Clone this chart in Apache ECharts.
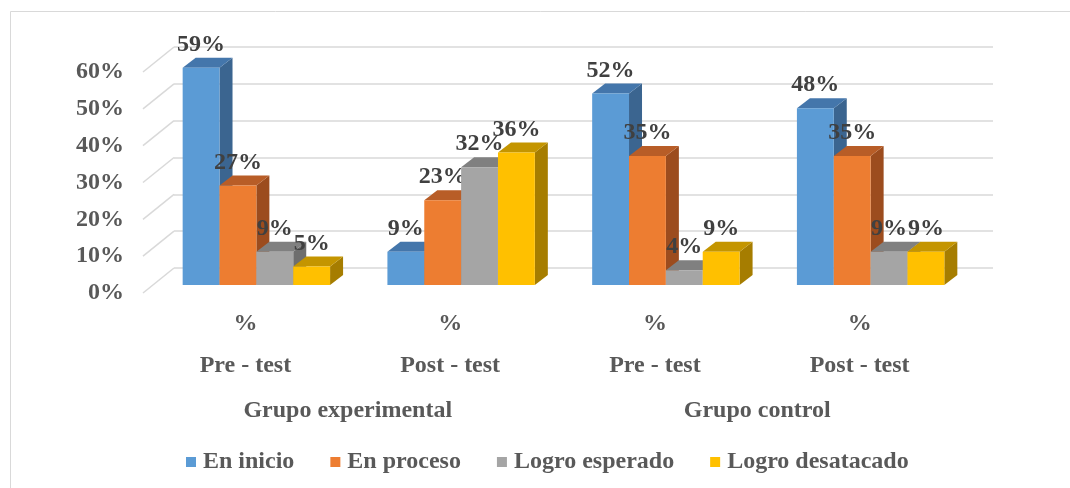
<!DOCTYPE html>
<html>
<head>
<meta charset="utf-8">
<script src="https://cdn.jsdelivr.net/npm/echarts@6/dist/echarts.min.js"></script>
<style>html,body{margin:0;padding:0;background:#fff;}#c{width:1070px;height:488px;}</style>
</head>
<body>
<div id="c"></div>
<script>
// ---- data ----
const categories = ['Pre - test', 'Post - test', 'Pre - test', 'Post - test'];
const groups = ['Grupo experimental', 'Grupo control'];
const seriesNames = ['En inicio', 'En proceso', 'Logro esperado', 'Logro desatacado'];
const enInicio = [59, 9, 52, 48];
const enProceso = [27, 23, 35, 35];
const logroEsperado = [9, 32, 4, 9];
const logroDestacado = [5, 36, 9, 9];
const yTicks = [0, 10, 20, 30, 40, 50, 60];

// ---- style ----
const FONT = '"Liberation Serif", "Times New Roman", serif';
const FS = 24;
const palette = [
  { front: '#5b9bd5', top: '#4476ab', side: '#3b6590' },
  { front: '#ed7d31', top: '#b85d27', side: '#9c4c1e' },
  { front: '#a5a5a5', top: '#808080', side: '#6e6e6e' },
  { front: '#ffc000', top: '#c49500', side: '#a67d00' }
];
const FRONT_DX = 20, FRONT_DY = 17;   // bars' front plane offset from back wall
const DEPTH_DX = 13, DEPTH_DY = -10;  // bar depth
const WALL_DX = 31, WALL_DY = 25;     // floor depth (diagonal lines)

const seriesValues = [enInicio, enProceso, logroEsperado, logroDestacado];

function barRenderer(s) {
  return function (params, api) {
    const cat = api.value(0), val = api.value(1);
    const top = api.coord([cat, val]);
    const base = api.coord([cat, 0]);
    const bw = api.size([1, 0])[0] * 0.18;
    const x0 = top[0] - FRONT_DX - 2 * bw + s * bw;
    const yT = top[1] + FRONT_DY;
    const yB = base[1] + FRONT_DY;
    const c = palette[s];
    return {
      type: 'group',
      children: [
        { type: 'polygon', shape: { points: [[x0 + bw, yT], [x0 + bw + DEPTH_DX, yT + DEPTH_DY], [x0 + bw + DEPTH_DX, yB + DEPTH_DY], [x0 + bw, yB]] }, style: { fill: c.side } },
        { type: 'polygon', shape: { points: [[x0, yT], [x0 + bw, yT], [x0 + bw + DEPTH_DX, yT + DEPTH_DY], [x0 + DEPTH_DX, yT + DEPTH_DY]] }, style: { fill: c.top } },
        { type: 'rect', shape: { x: x0, y: yT, width: bw, height: yB - yT }, style: { fill: c.front } },
        { type: 'text', style: { text: val + '%', x: x0 + bw / 2, y: yT - 23, align: 'center', verticalAlign: 'middle', font: 'bold ' + FS + 'px ' + FONT, fill: '#404040' } }
      ]
    };
  };
}

const series = [
  {
    type: 'custom', xAxisIndex: 0, yAxisIndex: 0, silent: true, z: 1,
    data: yTicks.map(v => [0, v]),
    renderItem: function (params, api) {
      const cs = params.coordSys;
      const y = api.coord([0, api.value(1)])[1];
      return { type: 'line', shape: { x1: cs.x - WALL_DX, y1: y + WALL_DY, x2: cs.x, y2: y }, style: { stroke: '#d9d9d9', lineWidth: 1.5 } };
    }
  }
];
seriesValues.forEach((vals, s) => {
  series.push({
    type: 'custom', name: seriesNames[s], xAxisIndex: 0, yAxisIndex: 0, z: 2,
    itemStyle: { color: palette[s].front },
    data: vals.map((v, i) => [i, v]),
    renderItem: barRenderer(s)
  });
});

const chart = echarts.init(document.getElementById('c'));
chart.setOption({
  backgroundColor: '#fff',
  animation: false,
  graphic: [{ type: 'rect', shape: { x: 10.5, y: 11.5, width: 1200, height: 600 }, style: { fill: 'none', stroke: '#d9d9d9', lineWidth: 1 }, silent: true }],
  grid: [
    { left: 174, right: 77, top: 47, bottom: 220 },
    { left: 143, right: 108, top: 72, bottom: 195 }
  ],
  xAxis: [
    { gridIndex: 0, type: 'category', data: categories, show: false },
    {
      gridIndex: 1, type: 'category', data: categories,
      axisLine: { show: false }, axisTick: { show: false },
      axisLabel: { margin: 10, formatter: v => '%\n' + v, lineHeight: 42, color: '#595959', fontFamily: FONT, fontWeight: 'bold', fontSize: FS }
    },
    {
      gridIndex: 1, type: 'category', data: groups, position: 'bottom', offset: 98,
      axisLine: { show: false }, axisTick: { show: false },
      axisLabel: { margin: 8, fontFamily: FONT, fontWeight: 'bold', fontSize: FS, color: '#595959' }
    }
  ],
  yAxis: [
    {
      gridIndex: 0, type: 'value', min: 0, max: 60, interval: 10,
      axisLine: { show: false }, axisTick: { show: false }, axisLabel: { show: false },
      splitLine: { lineStyle: { color: '#d9d9d9', width: 1.5 } }
    },
    {
      gridIndex: 1, type: 'value', min: 0, max: 60, interval: 10,
      axisLine: { show: false }, axisTick: { show: false }, splitLine: { show: false },
      axisLabel: { margin: 19, formatter: '{value}%', fontFamily: FONT, fontWeight: 'bold', fontSize: FS, color: '#595959' }
    }
  ],
  legend: {
    data: seriesNames, left: 186, top: 450, padding: 0, icon: 'rect', itemWidth: 10, itemHeight: 10, itemGap: 36,
    textStyle: { fontFamily: FONT, fontWeight: 'bold', fontSize: FS, color: '#595959', padding: [0, 0, 0, 2] }
  },
  series: series
});
</script>
</body>
</html>
